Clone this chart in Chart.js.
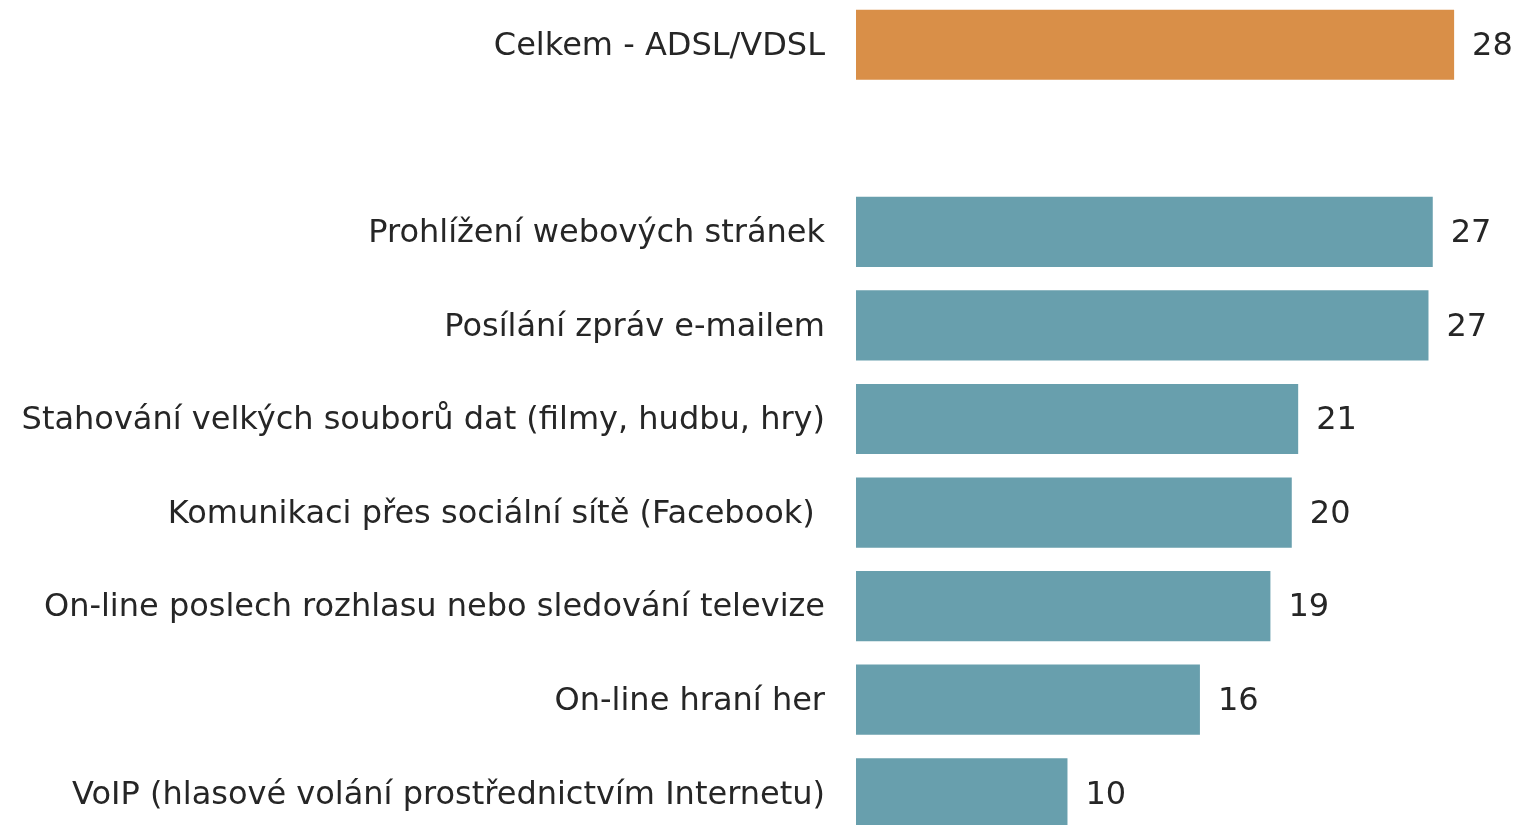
<!DOCTYPE html>
<html>
<head>
<meta charset="utf-8">
<script src="https://cdn.jsdelivr.net/npm/chart.js@4/dist/chart.umd.min.js"></script>
<style>
  html, body { margin: 0; padding: 0; background: #fff; overflow: hidden; }
  #wrap { position: relative; width: 1515px; height: 842px; margin-top: -2px; }
</style>
</head>
<body>
<div id="wrap"><canvas id="chart1"></canvas></div>
<script>
var categories = [
  "Celkem - ADSL/VDSL",
  "",
  "Prohlížení webových stránek",
  "Posílání zpráv e-mailem",
  "Stahování velkých souborů dat (filmy, hudbu, hry)",
  "Komunikaci přes sociální sítě (Facebook) ",
  "On-line poslech rozhlasu nebo sledování televize",
  "On-line hraní her",
  "VoIP (hlasové volání prostřednictvím Internetu)"
];
var values = [28, null, 27.0, 26.8, 20.7, 20.4, 19.4, 16.1, 9.9];
var valueLabels = ["28", "", "27", "27", "21", "20", "19", "16", "10"];
var barColors = ["#d98f48", "#ffffff", "#689fad", "#689fad", "#689fad", "#689fad", "#689fad", "#689fad", "#689fad"];

var valueLabelPlugin = {
  id: "valueLabels",
  afterDatasetsDraw: function(chart) {
    var ctx = chart.ctx;
    var meta = chart.getDatasetMeta(0);
    ctx.save();
    ctx.font = "32px 'DejaVu Sans'";
    ctx.fillStyle = "#262626";
    ctx.textAlign = "left";
    ctx.textBaseline = "middle";
    meta.data.forEach(function(bar, i) {
      if (values[i] == null) return;
      ctx.fillText(valueLabels[i], bar.x + 18, bar.y + 2);
    });
    ctx.restore();
  }
};

new Chart("chart1", {
  type: "bar",
  data: {
    labels: categories,
    datasets: [{
      data: values,
      backgroundColor: barColors,
      barPercentage: 0.75,
      categoryPercentage: 1.0
    }]
  },
  options: {
    indexAxis: "y",
    responsive: true,
    maintainAspectRatio: false,
    animation: false,
    layout: { padding: 0 },
    plugins: {
      legend: { display: false },
      tooltip: { enabled: false }
    },
    scales: {
      x: {
        display: false,
        min: 0,
        max: 30.85
      },
      y: {
        grid: { display: false, drawTicks: false },
        border: { display: false },
        ticks: {
          color: "#262626",
          font: { family: "'DejaVu Sans'", size: 32 },
          padding: 31,
          labelOffset: 2,
          autoSkip: false
        },
        afterFit: function(scale) {
          scale.width = 856;
          scale.paddingTop = 0;
          scale.paddingBottom = 0;
        }
      }
    }
  },
  plugins: [valueLabelPlugin]
});
</script>
</body>
</html>
